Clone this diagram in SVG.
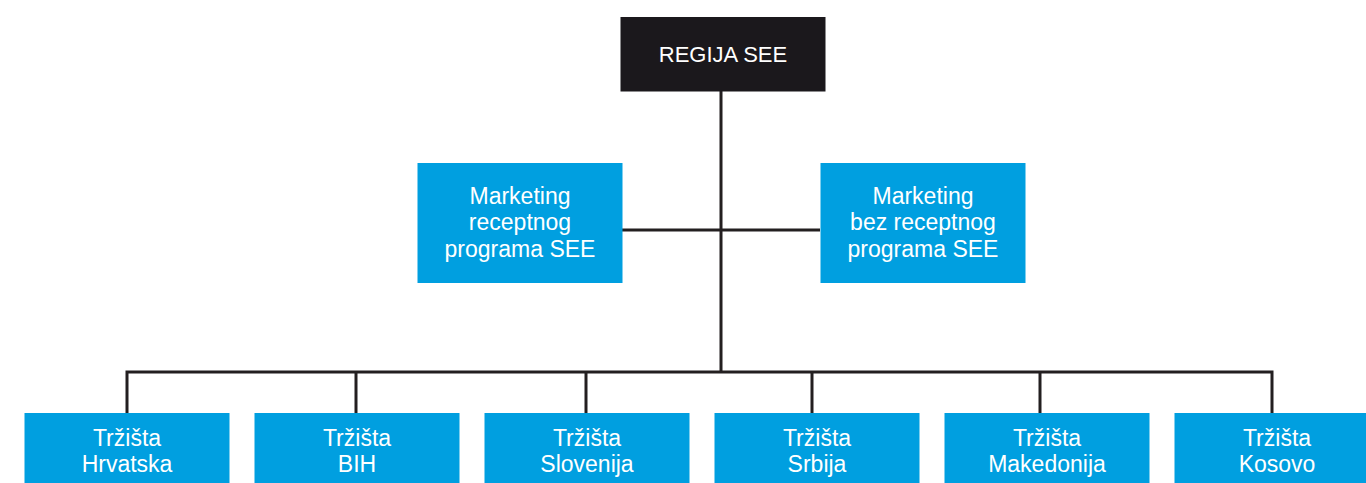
<svg xmlns="http://www.w3.org/2000/svg" width="1366" height="483" viewBox="0 0 1366 483">
<style>
.blue{fill:#009fe0}
.dark{fill:#1b181c}
.t{font-family:"Liberation Sans",Arial,sans-serif;font-size:23px;fill:#ffffff;text-anchor:middle}
.top{font-size:22px}
.c{stroke:#231f20;stroke-width:3;fill:none}
</style>
<rect width="1366" height="483" fill="#ffffff"/>
<g id="connectors">
<line class="c" x1="721" y1="91" x2="721" y2="373"/>
<line class="c" x1="622" y1="230" x2="820" y2="230"/>
<polyline class="c" points="127,413 127,372 1272,372 1272,413"/>
<line class="c" x1="356" y1="372" x2="356" y2="413"/>
<line class="c" x1="586" y1="372" x2="586" y2="413"/>
<line class="c" x1="812" y1="372" x2="812" y2="413"/>
<line class="c" x1="1040" y1="372" x2="1040" y2="413"/>
</g>
<g id="regija">
<rect class="dark" x="620.5" y="17" width="205" height="74.5"/>
<text class="t top" x="723" y="62">REGIJA SEE</text>
</g>
<g id="marketing-receptnog">
<rect class="blue" x="417.5" y="163" width="205" height="120"/>
<text class="t" x="520" y="204">Marketing</text>
<text class="t" x="520" y="230">receptnog</text>
<text class="t" x="520" y="257">programa SEE</text>
</g>
<g id="marketing-bez">
<rect class="blue" x="820.5" y="163" width="205" height="120"/>
<text class="t" x="923" y="204">Marketing</text>
<text class="t" x="923" y="230">bez receptnog</text>
<text class="t" x="923" y="257">programa SEE</text>
</g>
<g id="hrvatska">
<rect class="blue" x="24.5" y="413" width="205" height="80"/>
<text class="t" x="127" y="446">Tržišta</text>
<text class="t" x="127" y="472">Hrvatska</text>
</g>
<g id="bih">
<rect class="blue" x="254.5" y="413" width="205" height="80"/>
<text class="t" x="357" y="446">Tržišta</text>
<text class="t" x="357" y="472">BIH</text>
</g>
<g id="slovenija">
<rect class="blue" x="484.5" y="413" width="205" height="80"/>
<text class="t" x="587" y="446">Tržišta</text>
<text class="t" x="587" y="472">Slovenija</text>
</g>
<g id="srbija">
<rect class="blue" x="714.5" y="413" width="205" height="80"/>
<text class="t" x="817" y="446">Tržišta</text>
<text class="t" x="817" y="472">Srbija</text>
</g>
<g id="makedonija">
<rect class="blue" x="944.5" y="413" width="205" height="80"/>
<text class="t" x="1047" y="446">Tržišta</text>
<text class="t" x="1047" y="472">Makedonija</text>
</g>
<g id="kosovo">
<rect class="blue" x="1174.5" y="413" width="205" height="80"/>
<text class="t" x="1277" y="446">Tržišta</text>
<text class="t" x="1277" y="472">Kosovo</text>
</g>
</svg>
